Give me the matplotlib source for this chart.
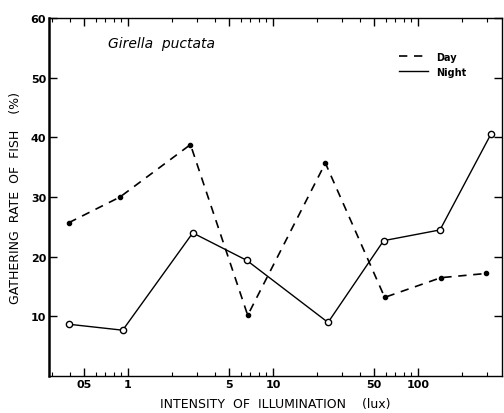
import numpy as np
import matplotlib
matplotlib.use('Agg')
import matplotlib.pyplot as plt
from matplotlib.ticker import FixedLocator, LogLocator, NullFormatter

# Data
day_lux = [0.39, 0.88, 2.7, 6.7, 23, 59, 144, 294]
day_rate = [25.7, 30.0, 38.8, 10.2, 35.7, 13.2, 16.5, 17.2]
night_lux = [0.39, 0.92, 2.8, 6.6, 24, 58, 142, 318]
night_rate = [8.7, 7.7, 24.0, 19.4, 9.0, 22.7, 24.5, 40.5]

xtick_vals = [0.5, 1, 5, 10, 50, 100]
xtick_labels = ['05', '1', '5', '10', '50', '100']
ytick_vals = [10, 20, 30, 40, 50, 60]

plt.rcParams['font.family'] = ['DejaVu Sans']

fig = plt.figure(figsize=(5.04, 4.14), dpi=100)
ax = fig.add_axes([0.097, 0.089, 0.899, 0.865])

ax.plot(day_lux, day_rate, color='black', linestyle=(0, (5, 4)), lw=1.2,
        marker='o', ms=3, mfc='black', label='Day')
ax.plot(night_lux, night_rate, color='black', linestyle='-', lw=1.0,
        marker='o', ms=4.5, mfc='white', mew=1.0, label='Night')

ax.set_xscale('log')
ax.set_xlim(0.285, 380)
ax.set_ylim(0, 60)

ax.xaxis.set_major_locator(FixedLocator(xtick_vals))
ax.set_xticklabels(xtick_labels)
ax.xaxis.set_minor_locator(LogLocator(base=10, subs=np.arange(2, 10)))
ax.xaxis.set_minor_formatter(NullFormatter())
ax.set_yticks(ytick_vals)
ax.set_yticklabels([str(v) for v in ytick_vals])

ax.tick_params(which='both', direction='in', top=True, right=True,
               labelsize=8, pad=2)
ax.tick_params(which='major', length=6, width=1)
ax.tick_params(which='minor', length=3, width=0.8)
for lab in ax.get_xticklabels() + ax.get_yticklabels():
    lab.set_fontweight('bold')

for s in ax.spines.values():
    s.set_linewidth(1.0)
ax.spines['left'].set_linewidth(1.8)

ax.text(0.13, 0.93, 'Girella  puctata', transform=ax.transAxes,
        fontsize=10, style='italic', ha='left', va='center')

ax.legend(loc='upper right', bbox_to_anchor=(0.94, 0.93), frameon=False,
          handlelength=3, markerscale=0, prop={'weight': 'bold', 'size': 7})

ax.set_xlabel('INTENSITY  OF  ILLUMINATION    (lux)', fontsize=9, labelpad=6)
ax.set_ylabel('GATHERING  RATE  OF  FISH    (%)', fontsize=9, labelpad=6)

fig.savefig('out.png', dpi=100)
